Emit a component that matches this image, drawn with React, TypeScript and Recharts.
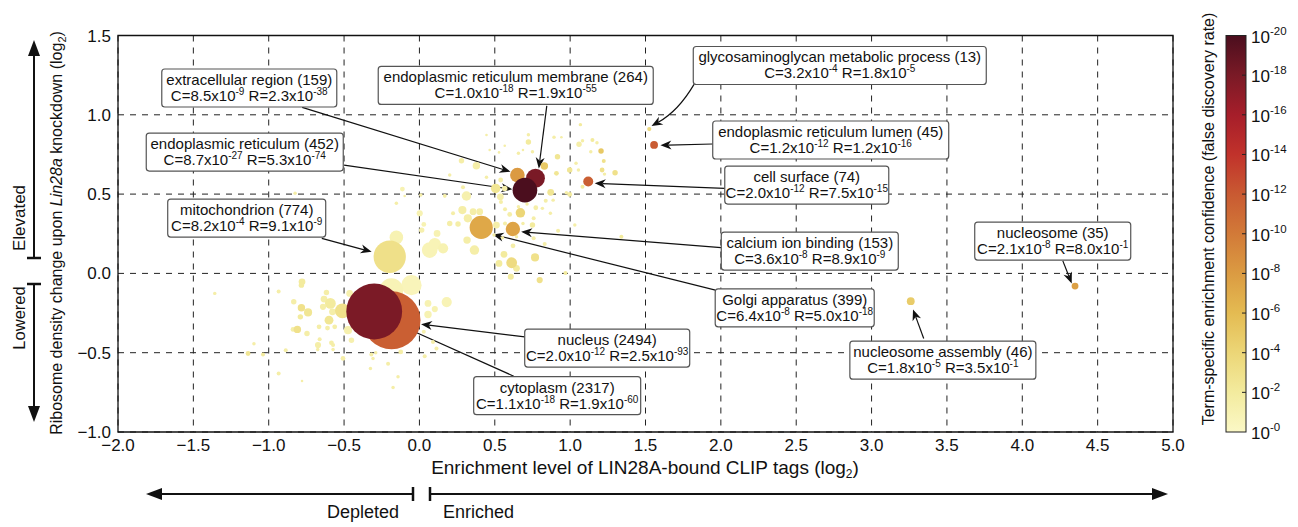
import React from "react"
import {
  ScatterChart,
  Scatter,
  XAxis,
  YAxis,
  ZAxis,
  CartesianGrid,
  ReferenceArea,
  ReferenceLine,
  ReferenceDot,
} from "recharts"

const FONT = '"Liberation Sans", Arial, Helvetica, sans-serif'

// labelled GO terms
const termNames = [
  "extracellular region",
  "endoplasmic reticulum membrane",
  "endoplasmic reticulum",
  "mitochondrion",
  "nucleus",
  "cytoplasm",
  "glycosaminoglycan metabolic process",
  "endoplasmic reticulum lumen",
  "cell surface",
  "calcium ion binding",
  "Golgi apparatus",
  "nucleosome",
  "nucleosome assembly",
]
const termCounts = [159, 264, 452, 774, 2494, 2317, 13, 45, 74, 153, 399, 35, 46]
const termX = [0.65, 0.77, 0.7, -0.197, -0.185, -0.3, 1.525, 1.557, 1.12, 0.62, 0.41, 4.35, 3.26]
const termY = [0.62, 0.6, 0.525, 0.105, -0.295, -0.24, 0.91, 0.81, 0.58, 0.28, 0.29, -0.08, -0.175]
const termC = ["8.5e-9", "1.0e-18", "8.7e-27", "8.2e-4", "2.0e-12", "1.1e-18", "3.2e-4", "1.2e-12", "2.0e-12", "3.6e-8", "6.4e-8", "2.1e-8", "1.8e-5"]
const termR = ["2.3e-38", "1.9e-55", "5.3e-74", "9.1e-9", "2.5e-93", "1.9e-60", "1.8e-5", "1.2e-16", "7.5e-15", "8.9e-9", "5.0e-18", "8.0e-1", "3.5e-1"]

// unlabelled terms: [x, y, gene count, -log10 FDR]
const otherTerms = [
  [0.445, 0.873, 5, 1.5], [0.723, 0.874, 9, 1.5], [0.723, 0.828, 22, 2], [0.566, 0.805, 5, 1.5],
  [0.528, 0.763, 5, 1.5], [0.657, 0.757, 9, 1.5], [0.687, 0.778, 5, 1.5], [0.75, 0.767, 9, 1.5],
  [0.893, 0.858, 9, 1.5], [0.942, 0.858, 5, 1.5], [0.916, 0.736, 22, 2.5], [1.068, 0.938, 9, 2],
  [1.059, 0.814, 22, 1.5], [1.082, 0.837, 9, 1.5], [1.148, 0.841, 12, 2], [1.178, 0.824, 9, 1.5],
  [1.137, 0.767, 9, 1.5], [1.205, 0.772, 22, 5], [1.223, 0.709, 12, 3], [1.039, 0.694, 9, 1.5],
  [0.997, 0.652, 22, 2.5], [1.055, 0.652, 9, 1.5], [1.212, 0.652, 17, 3], [1.298, 0.635, 22, 3],
  [1.228, 0.626, 9, 1.5], [0.829, 0.677, 41, 5], [0.909, 0.631, 17, 2.5], [0.871, 0.511, 34, 2.5],
  [0.838, 0.458, 12, 1.5], [0.887, 0.462, 9, 1.5], [0.869, 0.379, 9, 1.5], [0.772, 0.414, 17, 1.5],
  [0.816, 0.41, 9, 1.5], [0.714, 0.437, 9, 1.5], [0.67, 0.382, 67, 4], [0.568, 0.404, 12, 1.5],
  [0.599, 0.372, 17, 1.5], [0.657, 0.42, 9, 1.5], [0.758, 0.347, 12, 1.5], [0.75, 0.305, 22, 2],
  [0.687, 0.315, 9, 1.5], [0.541, 0.45, 12, 1.5], [0.566, 0.536, 22, 1.5], [0.537, 0.483, 34, 1.5],
  [0.506, 0.536, 67, 2.5], [0.539, 0.589, 17, 1.5], [0.445, 0.606, 9, 1.5], [0.378, 0.679, 41, 1.5],
  [0.279, 0.71, 22, 1.5], [0.201, 0.62, 9, 1.5], [0.289, 0.543, 12, 1.5], [0.312, 0.488, 67, 1.2],
  [0.168, 0.488, 9, 1.5], [0.223, 0.379, 12, 1.5], [0.285, 0.399, 49, 1.5], [0.321, 0.347, 49, 1.5],
  [0.356, 0.389, 34, 1.5], [0.4, 0.389, 34, 1.5], [0.201, 0.315, 22, 1.5], [0.256, 0.311, 22, 1.5],
  [0.316, 0.21, 41, 1.5], [0.365, 0.147, 67, 1.5], [0.157, 0.158, 77, 1], [0.511, 0.305, 34, 1.5],
  [0.568, 0.315, 12, 1.5], [0.495, 0.242, 9, 1.5], [0.551, 0.225, 9, 1.5], [0.621, 0.174, 17, 1.5],
  [0.644, 0.231, 9, 1.5], [0.758, 0.221, 12, 1.5], [0.831, 0.185, 12, 1.5], [0.92, 0.269, 12, 1.5],
  [1.031, 0.305, 9, 1.5], [0.561, 0.12, 34, 2], [0.528, 0.063, 34, 2], [0.612, 0.067, 87, 3.5],
  [0.644, 0.032, 34, 2], [0.767, 0.101, 49, 3], [0.606, -0.021, 28, 2], [0.798, -0.042, 28, 3],
  [0.969, 0.002, 12, 2], [1.34, 0.231, 12, 2], [0.997, 0.498, 17, 2], [1.082, 0.546, 12, 2],
  [0.975, 0.509, 9, 1.5], [0.466, 0.778, 5, 1.5], [-0.153, 0.227, 137, 1], [0.068, 0.147, 181, 0.8],
  [0.102, 0.185, 111, 0.8], [0.117, 0.252, 34, 1], [0.029, 0.309, 17, 1], [0.015, 0.273, 22, 1.2],
  [0.002, 0.379, 28, 1], [-0.113, 0.532, 17, 1], [-0.153, 0.442, 9, 1.5], [-0.098, 0.488, 5, 1.5],
  [0.009, 0.494, 9, 1.5], [0.168, 0.49, 9, 1.5], [-0.053, -0.074, 308, 0.6], [0.102, -0.225, 28, 1],
  [-1.358, -0.126, 9, 1.5], [-0.934, -0.114, 12, 1.5], [-0.779, -0.053, 34, 2], [-0.783, -0.074, 22, 2],
  [-0.834, -0.179, 22, 1.5], [-0.617, -0.12, 22, 1.5], [-0.633, -0.162, 34, 1.5], [-0.591, -0.189, 87, 2],
  [-0.64, -0.211, 28, 1.5], [-0.783, -0.217, 41, 3], [-0.739, -0.246, 49, 2.5], [-0.577, -0.242, 34, 1.5],
  [-0.79, -0.274, 22, 2], [-0.6, -0.295, 58, 2.5], [-0.839, -0.353, 17, 1.5], [-0.81, -0.353, 41, 3],
  [-0.746, -0.379, 22, 1.5], [-0.666, -0.337, 17, 1.5], [-0.61, -0.345, 17, 1.5], [-0.562, -0.337, 17, 1.5],
  [-0.662, -0.415, 12, 1.5], [-0.584, -0.438, 17, 1.5], [-0.573, -0.452, 12, 1.5], [-0.673, -0.452, 28, 1.5],
  [-0.675, -0.48, 9, 1.5], [-0.573, -0.48, 9, 1.5], [-1.098, -0.444, 9, 1.5], [-1.137, -0.505, 17, 2.5],
  [-1.038, -0.511, 12, 2], [-0.887, -0.484, 12, 1.5], [-0.934, -0.631, 12, 1.5], [-0.779, -0.678, 5, 1.5],
  [-0.507, -0.536, 17, 1.5], [-0.511, -0.236, 165, 3], [-0.463, -0.126, 34, 1.2], [-0.474, -0.358, 49, 1.2],
  [-0.451, -0.421, 22, 1.2], [-0.325, -0.599, 9, 1.5], [-0.319, -0.511, 12, 1.5], [-0.308, -0.536, 9, 1.5],
  [-0.29, -0.501, 9, 1.5], [-0.208, -0.57, 12, 1.5], [-0.142, -0.652, 9, 1.5], [-0.175, -0.719, 9, 1.5],
  [-0.124, -0.495, 17, 1.5], [-0.186, -0.105, 419, 0.8], [0.057, -0.189, 34, 1], [0.057, -0.259, 41, 1],
  [0.09, -0.432, 12, 1.5], [0.035, -0.522, 12, 1.5], [0.113, -0.473, 12, 1.5], [0.029, -0.368, 12, 1.2],
  [-0.825, 0.505, 9, 1.5], [0.181, -0.181, 77, 0.8],
]

const xTicks = [-2, -1.5, -1, -0.5, 0, 0.5, 1, 1.5, 2, 2.5, 3, 3.5, 4, 4.5, 5]
const yTicks = [-1, -0.5, 0, 0.5, 1, 1.5]
const fdrExponents = [20, 18, 16, 14, 12, 10, 8, 6, 4, 2, 0]
const fdrColors = ["#4b0e1e", "#7a1a26", "#a61e2a", "#c1322b", "#c95a32", "#d27a38", "#db9b42", "#e4bb52", "#ecd677", "#f3eb9e", "#fbf8c6"]

// annotation layout (data units): box centre, box width px, arrow start, arrow tip, bend
const notes = [
  { box: [-1.129, 1.169], w: 175, from: [-0.778, 1.047], to: [0.604, 0.641] },
  { box: [0.639, 1.185], w: 275, from: [0.845, 1.056], to: [0.792, 0.662] },
  { box: [-1.159, 0.765], w: 197, from: [-0.5, 0.683], to: [0.616, 0.53] },
  { box: [-1.146, 0.349], w: 158, from: [-0.648, 0.221], to: [-0.317, 0.136] },
  { box: [1.246, -0.471], w: 165, from: [0.699, -0.4], to: [0.011, -0.32] },
  { box: [0.914, -0.771], w: 167, from: [0.626, -0.648], to: [-0.131, -0.326] },
  { box: [2.789, 1.311], w: 293, from: [1.822, 1.192], to: [1.54, 0.929], bend: -8 },
  { box: [2.729, 0.841], w: 236, from: [1.946, 0.816], to: [1.599, 0.808] },
  { box: [2.57, 0.557], w: 164, from: [2.026, 0.536], to: [1.163, 0.568] },
  { box: [2.59, 0.141], w: 177, from: [2.002, 0.162], to: [0.675, 0.262] },
  { box: [2.49, -0.217], w: 159, from: [1.964, -0.105], to: [0.486, 0.246] },
  { box: [4.202, 0.204], w: 156, from: [4.269, 0.079], to: [4.328, -0.063] },
  { box: [3.473, -0.547], w: 186, from: [3.346, -0.41], to: [3.275, -0.227] },
]

const hexToRgb = (h: string) => [1, 3, 5].map((i) => parseInt(h.slice(i, i + 2), 16))

function fdrColor(e: number) {
  const t = Math.max(0, Math.min(20, e))
  const pos = (20 - t) / 2
  const i = Math.min(9, Math.floor(pos))
  const f = pos - i
  const a = hexToRgb(fdrColors[i])
  const b = hexToRgb(fdrColors[i + 1])
  const c = a.map((v, k) => Math.round(v + (b[k] - v) * f))
  return `rgb(${c[0]},${c[1]},${c[2]})`
}

// least significant first, so the strongest terms sit on top
const points = [
  ...otherTerms.map(([x, y, n, e]) => ({ x, y, n, e })),
  ...termNames.map((_, i) => ({ x: termX[i], y: termY[i], n: termCounts[i], e: -Math.log10(parseFloat(termC[i])) })),
].sort((a, b) => a.e - b.e)

const fmt = (v: number) => v.toFixed(1).replace("-", "\u2212")

function Bubble(p: any) {
  const r = p.width != null ? p.width / 2 : Math.sqrt((p.size ?? 0) / Math.PI)
  return <circle cx={p.cx} cy={p.cy} r={r} fill={fdrColor(p.payload.e)} />
}

function Sci({ label, value }: { label: string; value: string }) {
  const [m, e] = value.split("e")
  return (
    <>
      <tspan>{`${label}=${m}x10`}</tspan>
      <tspan dy={-6} fontSize={10}>{e}</tspan>
      <tspan dy={6}> </tspan>
    </>
  )
}

function NoteBox({ cx, cy, i }: { cx: number; cy: number; i: number }) {
  const w = notes[i].w
  const h = 38
  return (
    <g fontFamily={FONT} fill="#111">
      <rect x={cx - w / 2} y={cy - h / 2} width={w} height={h} rx={3} fill="#fff" stroke="#555" strokeWidth={1.2} />
      <text x={cx} y={cy - 3} textAnchor="middle" fontSize={15}>
        {`${termNames[i]} (${termCounts[i]})`}
      </text>
      <text x={cx} y={cy + 13} textAnchor="middle" fontSize={15}>
        <Sci label="C" value={termC[i]} />
        <Sci label="R" value={termR[i]} />
      </text>
    </g>
  )
}

function Arrow({ x1, y1, x2, y2, bend = 0 }: any) {
  const mx = (x1 + x2) / 2
  const my = (y1 + y2) / 2
  const L = Math.hypot(x2 - x1, y2 - y1)
  const qx = mx + (-(y2 - y1) / L) * bend
  const qy = my + ((x2 - x1) / L) * bend
  const dx = x2 - qx
  const dy = y2 - qy
  const len = Math.hypot(dx, dy)
  const ux = dx / len
  const uy = dy / len
  const hl = 11
  const hw = 4.5
  const bx = x2 - ux * hl
  const by = y2 - uy * hl
  const nx = x2 - ux * hl * 0.7
  const ny = y2 - uy * hl * 0.7
  const head = `M${x2},${y2} L${bx - uy * hw},${by + ux * hw} L${nx},${ny} L${bx + uy * hw},${by - ux * hw} Z`
  const shaft = bend ? `M${x1},${y1} Q${qx},${qy} ${nx},${ny}` : `M${x1},${y1} L${nx},${ny}`
  return (
    <g>
      <path d={shaft} stroke="#111" strokeWidth={1.2} fill="none" />
      <path d={head} fill="#111" />
    </g>
  )
}

function Sup({ base, sup }: { base: string; sup: string }) {
  return (
    <>
      <tspan>{base}</tspan>
      <tspan dy={-8} fontSize={11.5}>{sup}</tspan>
    </>
  )
}

function Overlay() {
  const cbTop = 35.5
  const cbBottom = 432
  const step = (cbBottom - cbTop) / 10
  return (
    <svg width={1298} height={527} style={{ position: "absolute", left: -8, top: -8, pointerEvents: "none" }} fontFamily={FONT}>
      <defs>
        <linearGradient id="fdr" x1="0" y1="0" x2="0" y2="1">
          {fdrColors.map((c, i) => (
            <stop key={i} offset={i / 10} stopColor={c} />
          ))}
        </linearGradient>
      </defs>
      {/* y axis label */}
      <text transform="translate(62,233) rotate(-90)" textAnchor="middle" fontSize={16} fill="#111">
        <tspan>Ribosome density change upon </tspan>
        <tspan fontStyle="italic">Lin28a</tspan>
        <tspan> knockdown (log</tspan>
        <tspan dy={4} fontSize={11}>2</tspan>
        <tspan dy={-4}>)</tspan>
      </text>
      {/* elevated / lowered arrows */}
      <line x1={34} y1={258} x2={34} y2={54} stroke="#111" strokeWidth={2} />
      <path d="M34,40 L28,56 L40,56 Z" fill="#111" />
      <line x1={27} y1={258} x2={41} y2={258} stroke="#111" strokeWidth={2.5} />
      <line x1={34} y1={284} x2={34} y2={408} stroke="#111" strokeWidth={2} />
      <path d="M34,422 L28,406 L40,406 Z" fill="#111" />
      <line x1={27} y1={284} x2={41} y2={284} stroke="#111" strokeWidth={2.5} />
      <text transform="translate(25,218) rotate(-90)" textAnchor="middle" fontSize={17} fill="#111">Elevated</text>
      <text transform="translate(25,318) rotate(-90)" textAnchor="middle" fontSize={16.5} fill="#111">Lowered</text>
      {/* x axis label */}
      <text x={645} y={474} textAnchor="middle" fontSize={19} fill="#111">
        <tspan>Enrichment level of LIN28A-bound CLIP tags (log</tspan>
        <tspan dy={4} fontSize={12}>2</tspan>
        <tspan dy={-4}>)</tspan>
      </text>
      {/* depleted / enriched arrows */}
      <line x1={413} y1={494} x2={160} y2={494} stroke="#111" strokeWidth={2} />
      <path d="M146,494 L162,488 L162,500 Z" fill="#111" />
      <line x1={413} y1={487} x2={413} y2={501} stroke="#111" strokeWidth={2.5} />
      <line x1={430} y1={494} x2={1154} y2={494} stroke="#111" strokeWidth={2} />
      <path d="M1168,494 L1152,488 L1152,500 Z" fill="#111" />
      <line x1={430} y1={487} x2={430} y2={501} stroke="#111" strokeWidth={2.5} />
      <text x={399} y={518} textAnchor="end" fontSize={18} fill="#111">Depleted</text>
      <text x={443} y={518} fontSize={18} fill="#111">Enriched</text>
      {/* colour bar */}
      <rect x={1226} y={cbTop} width={20} height={cbBottom - cbTop} fill="url(#fdr)" stroke="#222" strokeWidth={1} />
      {fdrExponents.map((e, k) => {
        const y = cbTop + k * step
        return (
          <g key={e}>
            {k > 0 && k < 10 && <line x1={1242} x2={1246} y1={y} y2={y} stroke="#222" />}
            <text x={1251} y={y + 7} fontSize={17} fill="#111">
              <Sup base="10" sup={`-${e}`} />
            </text>
          </g>
        )
      })}
      <text transform="translate(1214,219) rotate(-90)" textAnchor="middle" fontSize={16} fill="#111">
        Term-specific enrichment confidence (false discovery rate)
      </text>
    </svg>
  )
}

export default function App() {
  return (
    <div style={{ position: "relative", width: 1290, height: 519 }}>
      <ScatterChart width={1290} height={519} margin={{ top: 27.5, right: 125, bottom: 65, left: 60 }}>
        <CartesianGrid stroke="#222" strokeDasharray="6 6" />
        <XAxis
          type="number"
          dataKey="x"
          domain={[-2, 5]}
          ticks={xTicks}
          interval={0}
          tickFormatter={fmt}
          axisLine={false}
          tickLine={false}
          tickSize={0}
          tickMargin={7}
          height={30}
          tick={{ fill: "#111", fontSize: 17, fontFamily: FONT }}
          allowDataOverflow
        />
        <YAxis
          type="number"
          dataKey="y"
          domain={[-1, 1.5]}
          ticks={yTicks}
          interval={0}
          tickFormatter={fmt}
          axisLine={false}
          tickLine={false}
          tickSize={0}
          tickMargin={7}
          width={50}
          tick={{ fill: "#111", fontSize: 17, fontFamily: FONT }}
          allowDataOverflow
        />
        <ZAxis type="number" dataKey="n" domain={[0, 2500]} range={[0, Math.PI * 0.58 * 0.58 * 2500]} />
        <Scatter data={points} isAnimationActive={false} shape={Bubble} />
        <ReferenceArea x1={-2} x2={5} y1={-1} y2={1.5} fill="none" fillOpacity={0} stroke="#111" strokeWidth={1.3} ifOverflow="visible" />
        {notes.map((n, i) => (
          <ReferenceLine
            key={`a${i}`}
            segment={[
              { x: n.from[0], y: n.from[1] },
              { x: n.to[0], y: n.to[1] },
            ]}
            ifOverflow="visible"
            shape={(p: any) => <Arrow x1={p.x1} y1={p.y1} x2={p.x2} y2={p.y2} bend={n.bend} />}
          />
        ))}
        {notes.map((n, i) => (
          <ReferenceDot
            key={`b${i}`}
            x={n.box[0]}
            y={n.box[1]}
            ifOverflow="visible"
            shape={(p: any) => <NoteBox cx={p.cx} cy={p.cy} i={i} />}
          />
        ))}
      </ScatterChart>
      <Overlay />
    </div>
  )
}
